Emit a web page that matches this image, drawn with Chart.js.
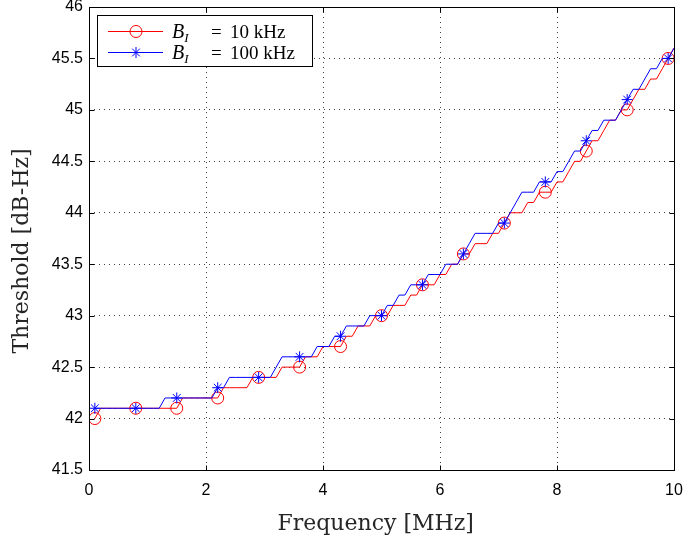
<!DOCTYPE html>
<html><head><meta charset="utf-8">
<script src="https://cdn.jsdelivr.net/npm/chart.js@4/dist/chart.umd.min.js"></script>
<style>html,body{margin:0;padding:0;background:#fff;overflow:hidden}canvas{display:block}</style>
</head><body>
<canvas id="c" width="683" height="545"></canvas>
<script>
// ---- data ----
const frequencyMHz = [
  0.1,0.2,0.3,0.4,0.5,0.6,0.7,0.8,0.9,1.0,
  1.1,1.2,1.3,1.4,1.5,1.6,1.7,1.8,1.9,2.0,
  2.1,2.2,2.3,2.4,2.5,2.6,2.7,2.8,2.9,3.0,
  3.1,3.2,3.3,3.4,3.5,3.6,3.7,3.8,3.9,4.0,
  4.1,4.2,4.3,4.4,4.5,4.6,4.7,4.8,4.9,5.0,
  5.1,5.2,5.3,5.4,5.5,5.6,5.7,5.8,5.9,6.0,
  6.1,6.2,6.3,6.4,6.5,6.6,6.7,6.8,6.9,7.0,
  7.1,7.2,7.3,7.4,7.5,7.6,7.7,7.8,7.9,8.0,
  8.1,8.2,8.3,8.4,8.5,8.6,8.7,8.8,8.9,9.0,
  9.1,9.2,9.3,9.4,9.5,9.6,9.7,9.8,9.9,10.0
];
const thresholdBI10kHz = [
  42.0,42.1,42.1,42.1,42.1,42.1,42.1,42.1,42.1,42.1,
  42.1,42.1,42.1,42.1,42.1,42.2,42.2,42.2,42.2,42.2,
  42.2,42.2,42.3,42.3,42.3,42.3,42.3,42.4,42.4,42.4,
  42.4,42.4,42.5,42.5,42.5,42.5,42.6,42.6,42.6,42.7,
  42.7,42.7,42.7,42.8,42.8,42.9,42.9,42.9,43.0,43.0,
  43.0,43.1,43.1,43.1,43.2,43.2,43.3,43.3,43.3,43.4,
  43.4,43.5,43.5,43.6,43.6,43.7,43.7,43.7,43.8,43.8,
  43.9,44.0,44.0,44.0,44.1,44.1,44.2,44.2,44.2,44.3,
  44.3,44.4,44.5,44.5,44.6,44.7,44.7,44.8,44.9,44.9,
  45.0,45.0,45.1,45.2,45.2,45.3,45.3,45.4,45.5,45.6
];
const thresholdBI100kHz = [
  42.1,42.1,42.1,42.1,42.1,42.1,42.1,42.1,42.1,42.1,
  42.1,42.1,42.2,42.2,42.2,42.2,42.2,42.2,42.2,42.2,
  42.2,42.3,42.3,42.4,42.4,42.4,42.4,42.4,42.4,42.4,
  42.4,42.5,42.6,42.6,42.6,42.6,42.6,42.6,42.7,42.7,
  42.7,42.8,42.8,42.9,42.9,42.9,42.9,43.0,43.0,43.0,
  43.1,43.1,43.2,43.2,43.3,43.3,43.3,43.4,43.4,43.4,
  43.5,43.5,43.5,43.6,43.7,43.8,43.8,43.8,43.8,43.9,
  43.9,44.0,44.1,44.2,44.2,44.2,44.3,44.3,44.3,44.4,
  44.4,44.5,44.6,44.6,44.7,44.8,44.8,44.9,44.9,44.9,
  45.0,45.1,45.2,45.2,45.3,45.4,45.4,45.5,45.5,45.6
];
const seriesBandwidths = ['10 kHz', '100 kHz'];
const xTickValues = [0, 2, 4, 6, 8, 10];
const yTickValues = [41.5, 42, 42.5, 43, 43.5, 44, 44.5, 45, 45.5, 46];
const xTitle = 'Frequency [MHz]';
const yTitle = 'Threshold [dB-Hz]';

// ---- style ----
const MARK_EVERY = 7;
const RED = 'rgb(255,0,0)';
const BLUE = 'rgb(0,0,255)';
const TITLE_FONT = '22px "DejaVu Serif"';
const TITLE_COLOR = '#262626';

function toPoints(xs, ys) { return xs.map((x, i) => ({ x: x, y: ys[i] })); }

function drawMarker(ctx, style, color, x, y) {
  ctx.save();
  ctx.strokeStyle = color; ctx.lineWidth = 1;
  ctx.beginPath();
  if (style === 'circle') {
    ctx.arc(x, y, 6, 0, Math.PI * 2);
  } else {
    const r = 5.5, d = r * Math.SQRT1_2;
    ctx.moveTo(x - r, y); ctx.lineTo(x + r, y);
    ctx.moveTo(x, y - r); ctx.lineTo(x, y + r);
    ctx.moveTo(x - d, y - d); ctx.lineTo(x + d, y + d);
    ctx.moveTo(x - d, y + d); ctx.lineTo(x + d, y - d);
  }
  ctx.stroke();
  ctx.restore();
}

function drawLegend(chart) {
  const { ctx, chartArea: a } = chart;
  const bx = Math.round(a.left + 8) + 0.5, by = Math.round(a.top + 8) + 0.5, bw = 215, bh = 51;
  ctx.save();
  ctx.fillStyle = '#fff'; ctx.fillRect(bx, by, bw, bh);
  ctx.strokeStyle = '#000'; ctx.lineWidth = 1; ctx.strokeRect(bx, by, bw, bh);
  const items = [
    { color: RED, style: 'circle', value: seriesBandwidths[0] },
    { color: BLUE, style: 'star', value: seriesBandwidths[1] }
  ];
  items.forEach((it, k) => {
    const cy = Math.round(a.top + 24 + k * 21) + 0.5;
    const x0 = a.left + 19, x1 = a.left + 74, xm = a.left + 47;
    ctx.strokeStyle = it.color; ctx.lineWidth = 1;
    ctx.beginPath(); ctx.moveTo(x0, cy); ctx.lineTo(x1, cy); ctx.stroke();
    drawMarker(ctx, it.style, it.color, xm, cy);
    const tx = a.left + 83, base = cy + 6;
    ctx.fillStyle = '#000';
    ctx.textBaseline = 'alphabetic'; ctx.textAlign = 'left';
    ctx.font = 'italic 20px "Liberation Serif"';
    ctx.fillText('B', tx, base);
    const wB = ctx.measureText('B').width;
    ctx.font = 'italic 13px "Liberation Serif"';
    ctx.fillText('I', tx + wB, base + 4);
    ctx.font = '19px "Liberation Serif"';
    ctx.fillText('=', tx + 39, base);
    ctx.fillText(it.value, tx + 58, base);
  });
  ctx.restore();
}

const framePlugin = {
  id: 'frame',
  afterDatasetsDraw(chart) {
    const { ctx, chartArea: a, scales: { x, y } } = chart;
    ctx.save();
    ctx.strokeStyle = '#000'; ctx.lineWidth = 1;
    const L = Math.round(a.left) + 0.5, R = Math.round(a.right) + 0.5;
    const T = Math.round(a.top) + 0.5, B = Math.round(a.bottom) + 0.5;
    ctx.strokeRect(L, T, R - L, B - T);
    const tl = 5;
    ctx.beginPath();
    x.ticks.forEach(t => {
      const px = Math.round(x.getPixelForValue(t.value)) + 0.5;
      ctx.moveTo(px, B); ctx.lineTo(px, B - tl);
      ctx.moveTo(px, T); ctx.lineTo(px, T + tl);
    });
    y.ticks.forEach(t => {
      const py = Math.round(y.getPixelForValue(t.value)) + 0.5;
      ctx.moveTo(L, py); ctx.lineTo(L + tl, py);
      ctx.moveTo(R, py); ctx.lineTo(R - tl, py);
    });
    ctx.stroke();
    // axis titles
    ctx.fillStyle = TITLE_COLOR;
    ctx.font = TITLE_FONT;
    ctx.textAlign = 'center';
    ctx.textBaseline = 'middle';
    ctx.fillText(xTitle, a.left + (a.right - a.left) * 0.49, 524);
    ctx.save();
    ctx.translate(22, a.top + (a.bottom - a.top) * 0.527);
    ctx.rotate(-Math.PI / 2);
    ctx.fillText(yTitle, 0, 0);
    ctx.restore();
    ctx.restore();
    drawLegend(chart);
  }
};

const gridCommon = { color: 'rgba(0,0,0,0.75)', lineWidth: 1, drawTicks: false };
const borderCommon = { display: false, dash: [1, 4] };

new Chart(document.getElementById('c'), {
  type: 'line',
  data: {
    datasets: [
      {
        label: 'B_I = ' + seriesBandwidths[1],
        data: toPoints(frequencyMHz, thresholdBI100kHz),
        borderColor: BLUE, borderWidth: 1, fill: false, tension: 0,
        pointStyle: 'star',
        pointRadius: c => (c.dataIndex % MARK_EVERY === 0 ? 5.5 : 0),
        pointBorderColor: BLUE, pointBackgroundColor: 'rgba(0,0,0,0)', pointBorderWidth: 1,
        order: 0
      },
      {
        label: 'B_I = ' + seriesBandwidths[0],
        data: toPoints(frequencyMHz, thresholdBI10kHz),
        borderColor: RED, borderWidth: 1, fill: false, tension: 0,
        pointStyle: 'circle',
        pointRadius: c => (c.dataIndex % MARK_EVERY === 0 ? 6 : 0),
        pointBorderColor: RED, pointBackgroundColor: 'rgba(0,0,0,0)', pointBorderWidth: 1,
        order: 1
      }
    ]
  },
  options: {
    responsive: false,
    animation: false,
    devicePixelRatio: 1,
    layout: { padding: { left: 0, right: 9, top: 7, bottom: 0 } },
    plugins: { legend: { display: false }, tooltip: { enabled: false } },
    scales: {
      x: {
        type: 'linear', min: 0, max: 10,
        afterBuildTicks: s => { s.ticks = xTickValues.map(v => ({ value: v })); },
        afterFit: s => { s.height = 75; s.paddingLeft = 0; s.paddingRight = 0; },
        grid: gridCommon, border: borderCommon,
        ticks: { color: '#000', font: { family: 'Liberation Sans', size: 16 }, padding: 11, maxRotation: 0,
                 callback: v => String(v) }
      },
      y: {
        type: 'linear', min: 41.5, max: 46,
        afterBuildTicks: s => { s.ticks = yTickValues.map(v => ({ value: v })); },
        afterFit: s => { s.width = 89; s.paddingTop = 0; s.paddingBottom = 0; },
        grid: gridCommon, border: borderCommon,
        ticks: { color: '#000', font: { family: 'Liberation Sans', size: 16 }, padding: 6,
                 callback: v => String(v) }
      }
    }
  },
  plugins: [framePlugin]
});
</script>
</body></html>
